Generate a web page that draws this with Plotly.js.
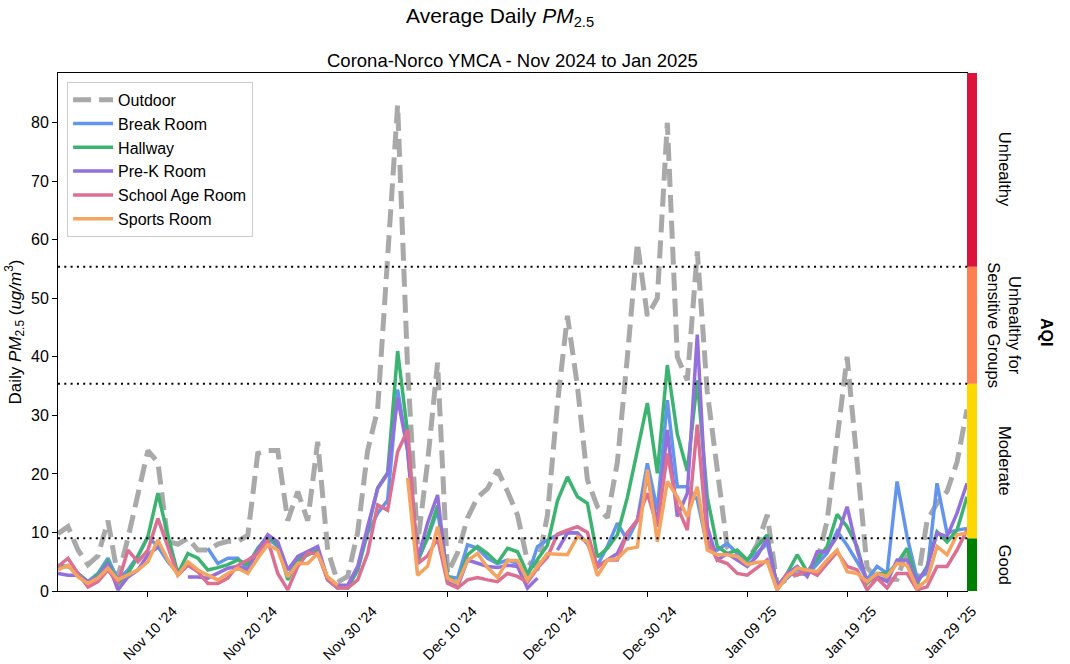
<!DOCTYPE html>
<html>
<head>
<meta charset="utf-8">
<script src="https://cdn.plot.ly/plotly-3.0.1.min.js"></script>
<style>html,body{margin:0;padding:0;background:#fff;}#chart{width:1070px;height:664px;}</style>
</head>
<body>
<div id="chart"></div>
<script>
// ---- data (daily, starting 2024-11-01) ----
const startDate = '2024-11-01';
const nDays = 92;

const outdoor = [9.8,11,7,4.5,6,12,2.4,9,16.5,24,22,8.5,8,9,7,7,8,8.5,8.5,9.5,23.5,24,24,12,17,12,25.5,7,1.5,2.5,
  10,24,31,58,83,38,8,22,39,3,6.5,12.5,16,17.5,20.7,17,13,5,4,13,32,47,35,19,14.4,12.5,22,40,59.5,47,50,
  80,40,36,58,34,20,7.5,5.5,5,8,13,1,2,3,3,5,12,26,40,22,4,2,2,2,7,1,12,15,17,22,31];

const breakRoom = [4.4,4.2,3,1.6,3,5.6,1.9,3.6,6,9.3,7.6,5,3,null,null,7.3,4.7,5.6,5.6,3.6,7,9,7.6,2.4,5.6,6.4,7,1.9,0.5,0.7,
  3.6,9.9,13.3,15.5,34.4,24,5.3,9,13.8,2.5,2.2,7.9,7.3,5.6,4.7,5.3,4.7,2.5,7.6,8.7,9.6,10.1,9.9,8.1,4.4,7.6,11.6,8.7,12.1,21.8,13.8,
  32.6,17.8,17.8,15.6,7.6,7,8.1,6.4,5.3,6.5,8.1,1,2.2,3.9,2.7,4.5,6.5,10.2,7.8,5,2,4.2,3,18.7,9.3,2.2,3,18.4,9.9,10.4,10.7];

const hallway = [4,4.2,3,1.5,2.8,5,1.2,3,5.9,9.3,16.7,9.5,3,6.4,5.6,3.6,4,4.5,5.3,4.5,7.3,9.3,7.9,1.9,5.3,6.2,7,2,0.7,0.5,
  3.6,10.4,17.6,20.2,41,27,5,9.3,14.6,2.5,1.3,6.2,7.6,6.4,4.8,7.3,6.7,3,5.3,7.8,15.4,19.5,16.1,15,5.8,7.3,9.6,16,24,32.1,20.1,
  38.6,26.8,20.5,36,16,7.6,6.4,7,5.3,7.6,9.6,0.5,3,6.2,3.3,5.4,7.6,13.1,11,7.6,1.3,3,3,4.7,7.3,1.3,4.2,10.1,8.4,10.4,16.1];

const preK = [3,2.7,2.7,1.6,2.4,4.7,0.2,2.4,3.6,6.2,7.5,null,null,2.4,2.4,2.2,3,3.9,4.2,3.6,7,9.6,8.4,3.6,5.9,6.7,7.6,2,1,1,
  4.2,11,17.5,20,33,24,5.3,11.6,16.4,1.5,0.7,5.3,4.7,4.2,4,4.4,4.2,0.5,2.2,null,7,9.9,9.9,8.1,4.2,5.3,6.4,9.9,12.1,19.5,11.6,
  27.5,12.7,16.7,43.8,11,5.3,6.4,5.3,4.2,6,9,0.7,3,4.2,2.5,6.7,6.7,9.3,14.4,7,1.6,2.5,1.6,5.3,5.3,1.6,3.9,9.9,9.3,13.3,18.4];

const schoolAge = [4.2,5.6,3,0.7,1.6,3.6,1.3,7,5,7,12.4,7.5,2.7,4.4,3.3,1.3,1.3,2.2,4.4,5.3,6.4,8.7,3,0.2,4.2,6.5,6.4,1.9,0.5,0.5,
  1.9,6.4,14.7,13.8,23.8,27.5,4.7,6,9,1.3,0.5,1.9,2.3,1.9,1.6,3,2.5,1.5,3.9,5.8,9.7,10.4,11,10,4,5.3,5.3,9.9,12.1,16.7,11,
  23.5,14.4,10.4,28.4,8.7,5.3,4.7,3,2.7,4,5.3,0.2,3,2.7,3.6,2.7,4.7,6.7,4.2,3.6,0.2,2.2,0.5,3,3,0.2,0.7,4.2,4.2,7,10.4];

const sports = [3.6,4.4,2.4,1.3,2.2,3.9,1.9,2.7,3.6,5,8.7,5.3,2.7,5,3.6,2.7,1.9,3,3.9,3,5.6,7.9,7,2.4,4.7,4.7,6.4,2.4,1,null,
  null,null,null,null,null,19.3,2.7,4.2,11,2.2,1.3,5.2,6.4,4,2.3,5.2,5.2,1.9,4.2,6.4,6.3,6.2,9.3,8.4,2.6,5.3,5.5,7.2,7.5,20.7,8.4,
  18.7,16.1,12.7,17.8,7,6.2,6.2,5.9,4.5,4.9,5,0.2,2.5,3.9,3.6,3.3,5.3,7,3.3,3,1.6,3,2.5,4.7,4.4,0.5,1.9,7.6,6.2,9.6,9.9];

const tickDates = ['2024-11-10','2024-11-20','2024-11-30','2024-12-10','2024-12-20','2024-12-30','2025-01-09','2025-01-19','2025-01-29'];
const tickLabels = ["Nov 10 '24","Nov 20 '24","Nov 30 '24","Dec 10 '24","Dec 20 '24","Dec 30 '24","Jan 09 '25","Jan 19 '25","Jan 29 '25"];

const aqiBreaks = [0, 9, 35.4, 55.4, 88.5];
const aqiColors = ['#008000', '#FFD700', '#FF7F50', '#DC143C'];
const aqiLabels = ['Good', 'Moderate', 'Unhealthy for<br>Sensitive Groups', 'Unhealthy'];
const thresholdLines = [9, 35.4, 55.4];

// ---- build dates ----
const dates = [];
const d0 = new Date(startDate + 'T00:00:00Z');
for (let i = 0; i < nDays; i++) {
  const d = new Date(d0.getTime() + i * 86400000);
  dates.push(d.toISOString().slice(0, 10));
}

const FONT = 'Liberation Sans, Arial, Helvetica, sans-serif';

const series = [
  {name: 'Outdoor', y: outdoor, color: '#A9A9A9', width: 5, dash: '18px,8px'},
  {name: 'Break Room', y: breakRoom, color: '#6495ED', width: 3.5, dash: 'solid'},
  {name: 'Hallway', y: hallway, color: '#3CB371', width: 3.5, dash: 'solid'},
  {name: 'Pre-K Room', y: preK, color: '#9370DB', width: 3.5, dash: 'solid'},
  {name: 'School Age Room', y: schoolAge, color: '#DB7093', width: 3.5, dash: 'solid'},
  {name: 'Sports Room', y: sports, color: '#F4A460', width: 3.5, dash: 'solid'}
];

const traces = series.map((s, k) => ({
  type: 'scatter', mode: 'lines', x: dates, y: s.y, name: s.name,
  legendgroup: 'g' + k,
  line: {color: s.color, width: s.width, dash: s.dash},
  connectgaps: false
}));

const shapes = [];
thresholdLines.forEach(v => shapes.push({
  type: 'line', xref: 'paper', x0: 0, x1: 1, yref: 'y', y0: v, y1: v,
  line: {color: 'black', width: 2, dash: '2px,4.3px'}, layer: 'above'
}));
for (let k = 0; k < aqiColors.length; k++) {
  shapes.push({
    type: 'rect', xref: 'paper', x0: 1.0, x1: 1.011, yref: 'y', y0: aqiBreaks[k], y1: aqiBreaks[k + 1],
    fillcolor: aqiColors[k], line: {width: 0}, layer: 'above'
  });
}

const annotations = [
  {text: 'Average Daily <i>PM</i><sub>2.5</sub>', xref: 'paper', yref: 'paper', x: 0.486, y: 1.108,
   showarrow: false, xanchor: 'center', yanchor: 'middle', font: {family: FONT, size: 21, color: 'black'}},
  {text: 'Corona-Norco YMCA - Nov 2024 to Jan 2025', xref: 'paper', yref: 'paper', x: 0.5, y: 1.025,
   showarrow: false, xanchor: 'center', yanchor: 'middle', font: {family: FONT, size: 18.5, color: 'black'}},
  {text: '<b>AQI</b>', xref: 'paper', yref: 'paper', x: 1.088, y: 0.5, textangle: 90,
   showarrow: false, xanchor: 'center', yanchor: 'middle', font: {family: FONT, size: 16, color: 'black'}}
];
for (let k = 0; k < aqiLabels.length; k++) {
  annotations.push({
    text: aqiLabels[k], xref: 'paper', yref: 'y', x: 1.0418, y: (aqiBreaks[k] + aqiBreaks[k + 1]) / 2,
    textangle: 90, showarrow: false, xanchor: 'center', yanchor: 'middle',
    font: {family: FONT, size: 16.5, color: 'black'}
  });
}

const layout = {
  width: 1070, height: 664,
  margin: {l: 58, r: 103, t: 73, b: 73},
  paper_bgcolor: 'white', plot_bgcolor: 'white',
  font: {family: FONT, size: 16, color: 'black'},
  showlegend: true,
  legend: {x: 0.01, y: 0.983, xanchor: 'left', yanchor: 'top',
    bgcolor: 'rgba(255,255,255,0.85)', bordercolor: '#cccccc', borderwidth: 1,
    font: {family: FONT, size: 16, color: 'black'}, tracegroupgap: 0, itemwidth: 40},
  xaxis: {
    type: 'date', range: ['2024-11-01', '2025-01-31'],
    tickmode: 'array', tickvals: tickDates, ticktext: tickLabels, tickangle: -45,
    ticklabelshift: 25,
    ticks: 'outside', ticklen: 5, tickcolor: 'black', tickwidth: 1,
    showline: true, linecolor: 'black', linewidth: 1, mirror: true,
    showgrid: false, zeroline: false,
    tickfont: {family: FONT, size: 14.5, color: 'black'}
  },
  yaxis: {
    range: [0, 88.5], tickmode: 'array', tickvals: [0,10,20,30,40,50,60,70,80],
    ticks: 'outside', ticklen: 5, tickcolor: 'black', tickwidth: 1,
    showline: true, linecolor: 'black', linewidth: 1, mirror: true,
    showgrid: false, zeroline: false,
    tickfont: {family: FONT, size: 16, color: 'black'},
    title: {text: 'Daily <i>PM</i><sub>2.5</sub> (<i>ug/m</i><sup>3</sup>)', standoff: 5,
      font: {family: FONT, size: 17, color: 'black'}}
  },
  shapes: shapes,
  annotations: annotations
};

Plotly.newPlot('chart', traces, layout, {staticPlot: true, displayModeBar: false});
</script>
</body>
</html>
